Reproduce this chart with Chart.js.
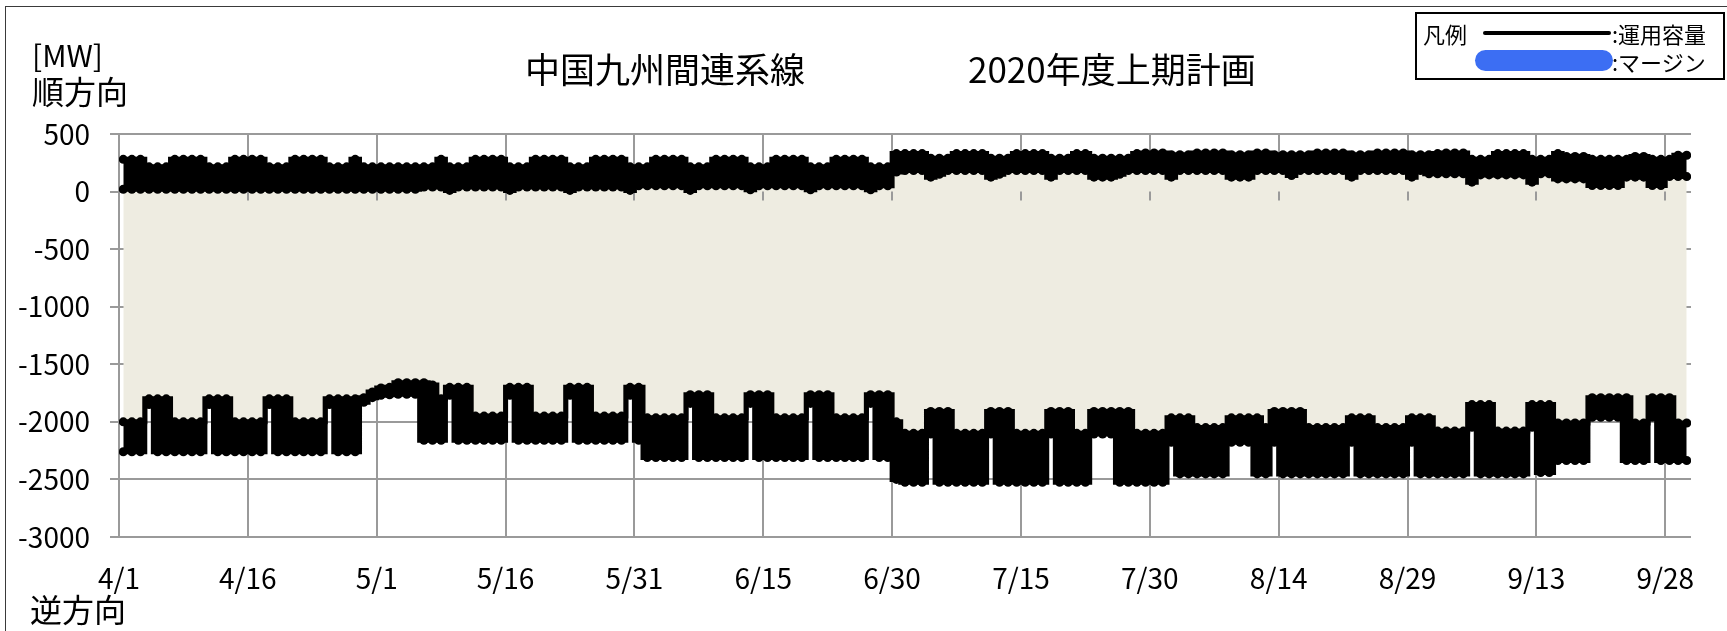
<!DOCTYPE html>
<html lang="ja">
<head>
<meta charset="utf-8">
<script src="https://cdn.jsdelivr.net/npm/chart.js@4.4.1/dist/chart.umd.min.js"></script>
<style>
  body { margin: 0; background: #fff; }
  #wrap { position: relative; width: 1727px; height: 631px; overflow: hidden; font-family: "Noto Sans CJK JP", sans-serif; color: #000; }
  #frame { position: absolute; left: 5px; top: 6px; width: 1760px; height: 660px; border: 1.5px solid #3a3a3a; }
  #chart { position: absolute; left: 0; top: 0; }
  .txt { position: absolute; white-space: nowrap; line-height: 1; }
  #legend { position: absolute; left: 1415px; top: 12px; width: 310px; height: 68px; border: 2px solid #000; box-sizing: border-box; background: #fff; }
  #legend .lbl { position: absolute; font-size: 22px; line-height: 1; white-space: nowrap; }
  #legend .cap { position: absolute; left: 66px; top: 17px; width: 128px; height: 4px; border-radius: 2px; background: #000; }
  #legend .mgn { position: absolute; left: 58px; top: 36px; width: 138px; height: 21px; border-radius: 11px; background: #3c6ef3; }
</style>
</head>
<body>
<div id="wrap">
  <canvas id="chart" width="1727" height="631"></canvas>
  <div id="frame"></div>
  <div class="txt" style="left:32px; top:39px; font-size:30px;">[MW]</div>
  <div class="txt" style="left:32px; top:74px; font-size:32px;">順方向</div>
  <div class="txt" style="left:525px; top:50px; font-size:35px;">中国九州間連系線</div>
  <div class="txt" style="left:968px; top:50px; font-size:35px;">2020年度上期計画</div>
  <div class="txt" style="left:30px; top:592px; font-size:32px;">逆方向</div>
  <div id="legend">
    <div class="lbl" style="left:6px; top:8px;">凡例</div>
    <div class="cap"></div>
    <div class="lbl" style="left:195px; top:8px;">:運用容量</div>
    <div class="mgn"></div>
    <div class="lbl" style="left:195px; top:36px;">:マージン</div>
  </div>
</div>
<script>
// x axis labels, one every 15 days from 4/1
const dateLabels = ['4/1', '4/16', '5/1', '5/16', '5/31', '6/15', '6/30', '7/15', '7/30', '8/14', '8/29', '9/13', '9/28'];
const yTicks = [500, 0, -500, -1000, -1500, -2000, -2500, -3000];

// daily operating capacity, 4/1 .. 9/30 (rows are Wed..Tue)
// forward direction, upper edge of the band
const fwdTop = [
  280, 280, 280, 215, 215, 215, 280,
  280, 280, 280, 215, 215, 215, 280,
  280, 280, 280, 215, 215, 215, 280,
  280, 280, 280, 215, 215, 215, 280,
  215, 215, 215, 215, 215, 215, 215,
  215, 215, 280, 215, 215, 215, 280,
  280, 280, 280, 215, 215, 215, 280,
  280, 280, 280, 215, 215, 215, 280,
  280, 280, 280, 215, 215, 215, 280,
  280, 280, 280, 215, 215, 215, 280,
  280, 280, 280, 215, 215, 215, 280,
  280, 280, 280, 215, 215, 215, 280,
  280, 280, 280, 215, 215, 215, 330,
  330, 330, 330, 290, 290, 290, 330,
  330, 330, 330, 290, 290, 290, 330,
  330, 330, 330, 290, 290, 290, 330,
  330, 290, 290, 290, 290, 290, 330,
  335, 335, 335, 320, 320, 320, 335,
  335, 335, 335, 320, 320, 320, 335,
  335, 320, 320, 320, 320, 320, 335,
  335, 335, 335, 320, 320, 320, 335,
  335, 335, 335, 320, 320, 320, 330,
  335, 335, 335, 280, 280, 280, 330,
  330, 330, 330, 280, 280, 280, 330,
  305, 305, 305, 280, 280, 280, 280,
  280, 305, 305, 280, 280, 280, 315,
  315
];
// forward direction, lower edge of the band
const fwdBottom = [
  20, 20, 20, 20, 20, 20, 20,
  20, 20, 20, 20, 20, 20, 20,
  20, 20, 20, 20, 20, 20, 20,
  20, 20, 20, 20, 20, 20, 20,
  20, 20, 20, 20, 20, 20, 20,
  40, 40, 40, 10, 40, 40, 40,
  40, 40, 40, 10, 40, 40, 40,
  40, 40, 40, 10, 40, 40, 40,
  40, 40, 40, 10, 50, 50, 50,
  50, 50, 50, 10, 50, 50, 50,
  50, 50, 50, 15, 50, 50, 50,
  50, 50, 50, 15, 50, 50, 50,
  50, 50, 50, 15, 50, 50, 170,
  183, 183, 183, 125, 150, 183, 183,
  183, 183, 183, 125, 150, 183, 183,
  183, 183, 183, 125, 183, 183, 183,
  183, 125, 125, 125, 150, 183, 183,
  183, 183, 183, 125, 183, 183, 183,
  183, 183, 183, 125, 125, 125, 183,
  183, 183, 183, 140, 183, 183, 183,
  183, 183, 183, 125, 183, 183, 183,
  183, 183, 183, 125, 183, 154, 154,
  154, 154, 154, 82, 145, 145, 145,
  145, 145, 145, 82, 154, 154, 110,
  110, 110, 110, 53, 53, 53, 53,
  125, 125, 125, 53, 53, 130, 130,
  130
];
// reverse direction, upper edge (closest to zero)
const revTop = [
  -2000, -2000, -2000, -1800, -1800, -1800, -2000,
  -2000, -2000, -2000, -1800, -1800, -1800, -2000,
  -2000, -2000, -2000, -1800, -1800, -1800, -2000,
  -2000, -2000, -2000, -1800, -1800, -1800, -1800,
  -1790, -1740, -1705, -1700, -1660, -1660, -1660,
  -1660, -1680, -1800, -1700, -1700, -1700, -1950,
  -1950, -1950, -1950, -1700, -1700, -1700, -1950,
  -1950, -1950, -1950, -1700, -1700, -1700, -1950,
  -1950, -1950, -1950, -1700, -1700, -1965, -1965,
  -1965, -1965, -1965, -1765, -1765, -1765, -1965,
  -1965, -1965, -1965, -1765, -1765, -1765, -1965,
  -1965, -1965, -1965, -1765, -1765, -1765, -1965,
  -1965, -1965, -1965, -1765, -1765, -1765, -2000,
  -2100, -2100, -2100, -1910, -1910, -1910, -2100,
  -2100, -2100, -2100, -1910, -1910, -1910, -2100,
  -2100, -2100, -2100, -1910, -1910, -1910, -2100,
  -2100, -1910, -1910, -1910, -1910, -1910, -2100,
  -2100, -2100, -2100, -1965, -1965, -1965, -2050,
  -2050, -2050, -2050, -1965, -1965, -1965, -1965,
  -2050, -1910, -1910, -1910, -1910, -2050, -2050,
  -2050, -2050, -2050, -1965, -1965, -1965, -2050,
  -2050, -2050, -2050, -1965, -1965, -1965, -2080,
  -2080, -2080, -2080, -1850, -1850, -1850, -2080,
  -2080, -2080, -2080, -1850, -1850, -1850, -2010,
  -2010, -2010, -2010, -1790, -1790, -1790, -1790,
  -1790, -2010, -2010, -1790, -1790, -1790, -2010,
  -2010
];
// reverse direction, lower edge
const revBottom = [
  -2260, -2260, -2260, -1850, -2260, -2260, -2260,
  -2260, -2260, -2260, -1850, -2260, -2260, -2260,
  -2260, -2260, -2260, -1850, -2260, -2260, -2260,
  -2260, -2260, -2260, -1850, -2260, -2260, -2260,
  -1830, -1790, -1770, -1765, -1760, -1760, -1760,
  -2160, -2160, -2160, -1770, -2160, -2160, -2160,
  -2160, -2160, -2160, -1770, -2160, -2160, -2160,
  -2160, -2160, -2160, -1770, -2160, -2160, -2160,
  -2160, -2160, -2160, -1770, -2160, -2310, -2310,
  -2310, -2310, -2310, -1840, -2310, -2310, -2310,
  -2310, -2310, -2310, -1840, -2310, -2310, -2310,
  -2310, -2310, -2310, -1840, -2310, -2310, -2310,
  -2310, -2310, -2310, -1840, -2310, -2310, -2500,
  -2525, -2525, -2525, -2105, -2525, -2525, -2525,
  -2525, -2525, -2525, -2105, -2525, -2525, -2525,
  -2525, -2525, -2525, -2105, -2525, -2525, -2525,
  -2525, -2105, -2105, -2105, -2525, -2525, -2525,
  -2525, -2525, -2525, -2177, -2452, -2452, -2452,
  -2452, -2452, -2452, -2177, -2177, -2177, -2452,
  -2452, -2177, -2452, -2452, -2452, -2452, -2452,
  -2452, -2452, -2452, -2177, -2452, -2452, -2452,
  -2452, -2452, -2452, -2177, -2452, -2452, -2452,
  -2452, -2452, -2452, -2047, -2452, -2452, -2452,
  -2452, -2452, -2452, -2047, -2440, -2440, -2336,
  -2336, -2336, -2336, -1960, -1960, -1960, -1960,
  -2336, -2336, -2336, -1960, -2336, -2336, -2336,
  -2336
];

const margin = '#eeece1';
const gridGray = '#9a9a9a';
const font = { family: "'Noto Sans CJK JP', sans-serif", size: 28 };

const capLine = (vals, extra) => Object.assign({
  data: vals.map((v, i) => ({ x: i + 0.5, y: v })),
  borderColor: '#000',
  borderWidth: 5,
  pointRadius: 4.5,
  pointHoverRadius: 4.5,
  pointBorderWidth: 0,
  pointBackgroundColor: '#000',
  stepped: 'middle',
  fill: false
}, extra);

// small tick marks where the category axis crosses zero
const zeroTicks = {
  id: 'zeroTicks',
  afterDatasetDraw(chart, args) {
    if (args.index !== 2) return;
    const { ctx, scales: { x, y } } = chart;
    const y0 = y.getPixelForValue(0);
    ctx.save();
    ctx.strokeStyle = gridGray;
    ctx.lineWidth = 2;
    x.ticks.forEach((t) => {
      const px = Math.round(x.getPixelForValue(t.value));
      ctx.beginPath();
      ctx.moveTo(px, y0);
      ctx.lineTo(px, y0 + 9);
      ctx.stroke();
    });
    ctx.restore();
  }
};

new Chart(document.getElementById('chart'), {
  type: 'line',
  data: {
    datasets: [
      capLine(fwdTop),
      capLine(fwdBottom, { fill: '-1', backgroundColor: '#000' }),
      capLine(revTop, { fill: '-1', backgroundColor: margin }),
      capLine(revBottom, { fill: '-1', backgroundColor: '#000' })
    ]
  },
  options: {
    responsive: false,
    animation: false,
    devicePixelRatio: 1,
    layout: { padding: { left: 0, right: 36, top: 134, bottom: 34 } },
    plugins: { legend: { display: false }, tooltip: { enabled: false } },
    scales: {
      x: {
        type: 'linear',
        min: 0,
        max: 183,
        afterFit: (scale) => { scale.height = 60; },
        grid: { color: gridGray, lineWidth: 2, drawTicks: false },
        border: { display: false },
        ticks: {
          stepSize: 15,
          includeBounds: false,
          autoSkip: false,
          maxRotation: 0,
          padding: 25,
          color: '#000',
          font: font,
          callback: (v) => dateLabels[v / 15]
        }
      },
      y: {
        min: -3000,
        max: 500,
        afterFit: (scale) => { scale.width = 119; },
        afterBuildTicks: (scale) => { scale.ticks = yTicks.map((v) => ({ value: v })); },
        grid: { color: gridGray, lineWidth: 2, tickLength: 9 },
        border: { display: false },
        ticks: { padding: 20, color: '#000', font: font, callback: (v) => String(v) }
      }
    }
  },
  plugins: [zeroTicks]
});
</script>
</body>
</html>
